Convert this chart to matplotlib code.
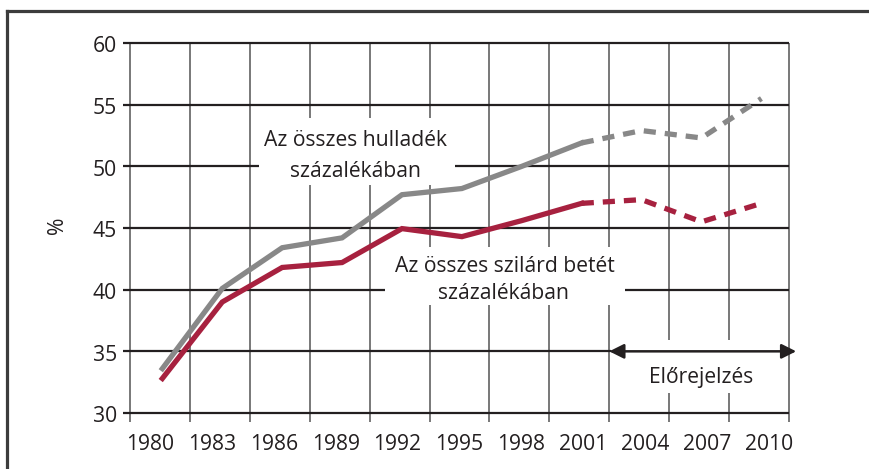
import matplotlib
matplotlib.use("Agg")
import matplotlib.pyplot as plt
from matplotlib.patches import Rectangle
from matplotlib.lines import Line2D

# ---- data ----
year_labels = ["1980", "1983", "1986", "1989", "1992", "1995", "1998", "2001", "2004", "2007", "2010"]
years_hist = [1980, 1983, 1986, 1989, 1992, 1995, 1998, 2001]
years_fcst = [2001, 2004, 2007, 2010]
waste_hist = [33.6, 40.1, 43.4, 44.2, 47.7, 48.2, 50.0, 51.9]      # Az összes hulladék százalékában
waste_fcst = [51.9, 52.9, 52.3, 55.5]
solid_hist = [32.8, 39.0, 41.8, 42.2, 44.95, 44.3, 45.6, 47.0]     # Az összes szilárd betét százalékában
solid_fcst = [47.0, 47.3, 45.5, 47.0]
y_ticks = [30, 35, 40, 45, 50, 55, 60]

plt.rcParams['font.family'] = ['Open Sans', 'DejaVu Sans']
TXT = '#231f20'
GRAY = '#888888'
RED = '#a7213f'
FS = 15.2

fig = plt.figure(figsize=(8.69, 4.69), dpi=100)
ax = fig.add_axes([130 / 869, 56 / 469, 659 / 869, 370 / 469])
ax.set_xlim(0, 11)
ax.set_ylim(30, 60)
ax.axis('off')


def xpos(year):
    return (year - 1980) / 3 + 0.54


# grid
ax.vlines(range(12), 29.26, 60, color='#5a5a5a', lw=1.15, clip_on=False, zorder=1)
ax.hlines(y_ticks, -0.117, 11, color=TXT, lw=1.6, clip_on=False, zorder=1.2)

# white label boxes (interrupt grid)
for (x0, x1, y0, y1) in [(2.15, 5.43, 48.5, 53.9), (4.26, 8.26, 38.75, 43.45), (8.03, 10.97, 31.6, 35.9)]:
    ax.add_patch(Rectangle((x0, y0), x1 - x0, y1 - y0, fc='white', ec='none', zorder=2))

# y tick labels
for v in y_ticks:
    ax.text(-0.22, v - 0.75, str(v), ha='right', va='baseline', fontsize=FS, color=TXT, clip_on=False)
# x tick labels
for i, lab in enumerate(year_labels):
    ax.text(0.334 + i * 1.033, 27.0, lab, ha='center', va='baseline', fontsize=FS, color=TXT, clip_on=False)

# y axis label
fig.text(58 / 869, 1 - 225 / 469, '%', rotation=90, ha='center', va='center', fontsize=FS, color=TXT)

# lines
ax.plot([xpos(y) for y in years_hist], waste_hist, color=GRAY, lw=3.8, solid_joinstyle='miter', zorder=4)
ax.plot([xpos(y) for y in years_fcst], waste_fcst, color=GRAY, lw=3.8, dashes=(2.3, 1.7), dash_capstyle='butt', zorder=4)
ax.plot([xpos(y) for y in years_hist], solid_hist, color=RED, lw=3.8, solid_joinstyle='miter', zorder=4)
ax.plot([xpos(y) for y in years_fcst], solid_fcst, color=RED, lw=3.8, dashes=(2.3, 1.7), dash_capstyle='butt', zorder=4)

# labels
ax.text(3.77, 51.65, 'Az összes hulladék', ha='center', va='baseline', fontsize=FS, color=TXT, zorder=3)
ax.text(3.76, 49.13, 'százalékában', ha='center', va='baseline', fontsize=FS, color=TXT, zorder=3)
ax.text(6.26, 41.45, 'Az összes szilárd betét', ha='center', va='baseline', fontsize=FS, color=TXT, zorder=3)
ax.text(6.24, 39.24, 'százalékában', ha='center', va='baseline', fontsize=FS, color=TXT, zorder=3)
ax.text(9.53, 32.43, 'Előrejelzés', ha='center', va='baseline', fontsize=FS, color=TXT, zorder=3)

# forecast arrow
ax.annotate('', xy=(8.0, 35), xytext=(11.12, 35),
            arrowprops=dict(arrowstyle='<|-|>', color=TXT, lw=1.8, mutation_scale=22,
                            shrinkA=0, shrinkB=0), annotation_clip=False, zorder=5)

# frame (top and left only)
fig.add_artist(Line2D([6.5 / 869, 1], [1 - 10.8 / 469, 1 - 10.8 / 469], color='#3c3c3c', lw=2.3))
fig.add_artist(Line2D([6.5 / 869, 6.5 / 869], [0, 1 - 10.8 / 469], color='#3c3c3c', lw=2.3))

fig.savefig('out.png', dpi=100)
